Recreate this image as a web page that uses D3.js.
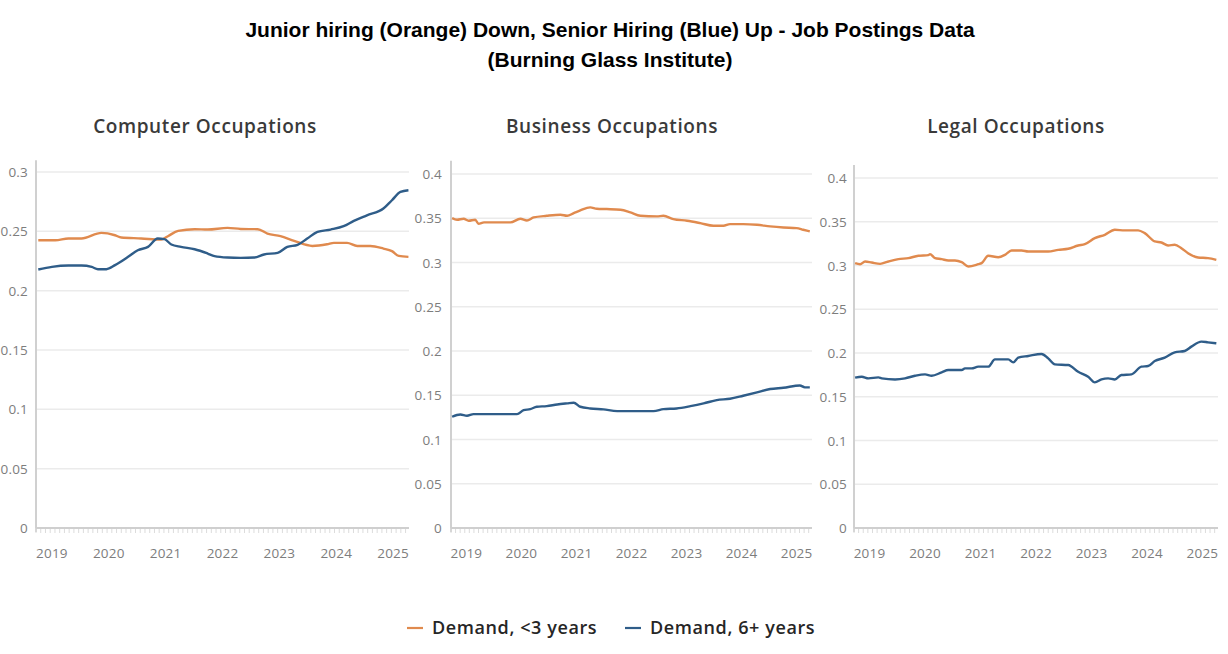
<!DOCTYPE html>
<html>
<head>
    <meta charset="UTF-8">
    <title>Junior vs Senior Hiring</title>
    <script src="https://d3js.org/d3.v7.min.js"></script>
    <style>
        body { margin: 0; background: #fff; }
        .grid line { stroke: #ebebeb; stroke-width: 1.5; }
        .tick-label { font-family: "Open Sans", sans-serif; font-size: 13.5px; fill: #7d7d7d; letter-spacing: 0.2px; }
        .panel-title { font-family: "Open Sans", sans-serif; font-size: 19px; font-weight: 600; fill: #3a3a3a; letter-spacing: 0.6px; }
        .legend-text { font-family: "Open Sans", sans-serif; font-size: 18px; font-weight: 600; fill: #262626; letter-spacing: 0.6px; }
    </style>
</head>
<body>
<div id="chart"></div>
<script>
    // series: [fractional year, share of postings]
    var computerJunior = [[2018.88,0.2425],[2019.18,0.2425],[2019.41,0.244],[2019.64,0.244],[2019.99,0.2487],[2020.23,0.2467],
        [2020.34,0.2448],[2020.69,0.244],[2021.04,0.243],[2021.16,0.2459],[2021.34,0.2504],[2021.63,0.2518],[2021.86,0.2515],
        [2022.21,0.2529],[2022.44,0.252],[2022.74,0.2518],[2022.91,0.2481],[2023.14,0.2459],[2023.38,0.242],[2023.70,0.2377],
        [2023.96,0.2391],[2024.08,0.2403],[2024.31,0.2403],[2024.49,0.2377],[2024.72,0.2377],[2024.95,0.2355],[2025.10,0.2333],
        [2025.22,0.2293],[2025.39,0.2285]];
    var computerSenior = [[2018.88,0.2178],[2019.12,0.2201],[2019.41,0.2212],[2019.64,0.2212],[2019.82,0.22],[2019.93,0.2181],
        [2020.08,0.2181],[2020.23,0.2215],[2020.46,0.2285],[2020.63,0.2341],[2020.81,0.2369],[2020.98,0.2439],[2021.10,0.2434],
        [2021.22,0.2389],[2021.39,0.2369],[2021.63,0.2349],[2021.86,0.2313],[2021.98,0.2291],[2022.21,0.2279],[2022.44,0.2276],
        [2022.68,0.2279],[2022.85,0.2305],[2023.09,0.2319],[2023.26,0.2369],[2023.44,0.2386],[2023.61,0.2439],[2023.79,0.2495],
        [2024.02,0.2515],[2024.25,0.2543],[2024.43,0.2588],[2024.66,0.2635],[2024.95,0.2692],[2025.10,0.2762],[2025.25,0.2832],
        [2025.39,0.2846]];
    var businessJunior = [[2018.86,0.3502],[2018.95,0.3483],[2019.07,0.3494],[2019.16,0.3472],[2019.28,0.3483],[2019.34,0.3438],
        [2019.44,0.3453],[2019.68,0.3453],[2019.92,0.3453],[2020.10,0.3494],[2020.22,0.3475],[2020.34,0.3509],[2020.58,0.3528],
        [2020.83,0.354],[2020.95,0.3528],[2021.07,0.3558],[2021.19,0.3589],[2021.37,0.3623],[2021.49,0.3608],[2021.67,0.3604],
        [2021.92,0.3596],[2022.10,0.3566],[2022.28,0.3528],[2022.58,0.3521],[2022.70,0.3528],[2022.88,0.3491],[2023.13,0.3472],
        [2023.37,0.3445],[2023.61,0.3415],[2023.79,0.3415],[2023.91,0.3434],[2024.15,0.3434],[2024.40,0.3426],[2024.64,0.3408],
        [2024.88,0.3396],[2025.12,0.3389],[2025.24,0.337],[2025.36,0.3351]];
    var businessSenior = [[2018.86,0.1257],[2019.01,0.1283],[2019.13,0.1268],[2019.25,0.1287],[2019.56,0.1287],[2020.04,0.1287],
        [2020.16,0.1332],[2020.28,0.1343],[2020.40,0.137],[2020.58,0.1377],[2020.77,0.1396],[2020.95,0.1408],[2021.07,0.1415],
        [2021.19,0.137],[2021.37,0.1351],[2021.61,0.134],[2021.86,0.1321],[2022.22,0.1321],[2022.52,0.1321],[2022.70,0.1343],
        [2022.94,0.1351],[2023.19,0.1377],[2023.43,0.1408],[2023.67,0.1445],[2023.91,0.146],[2024.15,0.1494],[2024.40,0.1532],
        [2024.64,0.157],[2024.88,0.1585],[2025.18,0.1611],[2025.27,0.1589],[2025.36,0.1589]];
    var legalJunior = [[2018.86,0.3027],[2018.95,0.3015],[2019.04,0.3046],[2019.16,0.3034],[2019.31,0.3019],[2019.46,0.3046],
        [2019.64,0.3073],[2019.82,0.3084],[2020.00,0.3111],[2020.18,0.3118],[2020.21,0.313],[2020.30,0.3084],[2020.42,0.3073],
        [2020.54,0.3057],[2020.66,0.3057],[2020.78,0.3038],[2020.90,0.2989],[2021.08,0.3015],[2021.14,0.3027],[2021.26,0.3111],
        [2021.44,0.3095],[2021.56,0.3122],[2021.68,0.3172],[2021.86,0.3172],[2021.98,0.316],[2022.34,0.316],[2022.52,0.3179],
        [2022.70,0.3191],[2022.88,0.3229],[2023.00,0.3244],[2023.18,0.3313],[2023.36,0.3351],[2023.54,0.3408],[2023.72,0.3401],
        [2023.96,0.3401],[2024.08,0.337],[2024.26,0.3275],[2024.38,0.3263],[2024.50,0.3229],[2024.62,0.3237],[2024.74,0.3198],
        [2024.86,0.3141],[2025.04,0.3092],[2025.22,0.3084],[2025.37,0.3065]];
    var legalSenior = [[2018.86,0.1718],[2018.98,0.1729],[2019.10,0.171],[2019.28,0.1721],[2019.34,0.171],[2019.58,0.1698],
        [2019.76,0.171],[2019.94,0.174],[2020.12,0.1756],[2020.24,0.174],[2020.42,0.1779],[2020.54,0.1805],[2020.78,0.1805],
        [2020.84,0.1824],[2020.96,0.1824],[2021.08,0.1844],[2021.26,0.1844],[2021.38,0.1927],[2021.62,0.1927],[2021.71,0.1893],
        [2021.80,0.1947],[2021.98,0.1966],[2022.22,0.1989],[2022.34,0.1939],[2022.46,0.187],[2022.70,0.1863],[2022.88,0.1786],
        [2023.06,0.1729],[2023.18,0.1664],[2023.30,0.1698],[2023.42,0.171],[2023.54,0.1698],[2023.66,0.1748],[2023.84,0.1756],
        [2024.02,0.1844],[2024.14,0.1851],[2024.26,0.1908],[2024.44,0.1947],[2024.62,0.2008],[2024.80,0.2023],[2024.92,0.2073],
        [2025.10,0.213],[2025.22,0.2122],[2025.37,0.2111]];

    var yearTicks = [2019, 2020, 2021, 2022, 2023, 2024, 2025];
    var panelTitles = ["Computer Occupations", "Business Occupations", "Legal Occupations"];
    var yTicks = [[0, 0.05, 0.1, 0.15, 0.2, 0.25, 0.3], [0, 0.05, 0.1, 0.15, 0.2, 0.25, 0.3, 0.35, 0.4], [0, 0.05, 0.1, 0.15, 0.2, 0.25, 0.3, 0.35, 0.4]];
    var yMax = [0.31, 0.415, 0.415];
    var legendLabels = ["Demand, <3 years", "Demand, 6+ years"];

    var orange = "#e08a4e", blue = "#2f5d89";
    var width = 1228, height = 654;

    var svg = d3.select("#chart").append("svg")
        .attr("width", width)
        .attr("height", height);

    // main title
    var title = svg.append("text")
        .attr("text-anchor", "middle")
        .style("font-family", "'Liberation Sans', Arial, sans-serif")
        .style("font-weight", "bold")
        .style("font-size", "21px")
        .attr("fill", "#000");
    title.append("tspan").attr("x", 610).attr("y", 37).text("Junior hiring (Orange) Down, Senior Hiring (Blue) Up - Job Postings Data");
    title.append("tspan").attr("x", 610).attr("y", 67).text("(Burning Glass Institute)");

    // panel frames: left edge of plot, right edge, pixel for top value
    var panels = [
        {left: 36, right: 409, topVal: 172, labelGap: 8, junior: computerJunior, senior: computerSenior, center: 205},
        {left: 451, right: 812, topVal: 174, labelGap: 9, junior: businessJunior, senior: businessSenior, center: 612},
        {left: 854, right: 1218, topVal: 178, labelGap: 7, junior: legalJunior, senior: legalSenior, center: 1016}
    ];
    var bottom = 528;

    panels.forEach(function (p, i) {
        var g = svg.append("g");
        var x = d3.scaleLinear().domain([2018.84, 2025.40]).range([p.left, p.right]);
        var ticks = yTicks[i];
        var topTick = ticks[ticks.length - 1];
        var y = d3.scaleLinear().domain([0, topTick]).range([bottom, p.topVal]);

        g.append("text")
            .attr("class", "panel-title")
            .attr("x", p.center)
            .attr("y", 133)
            .attr("text-anchor", "middle")
            .text(panelTitles[i]);

        // gridlines
        g.append("g").attr("class", "grid")
            .selectAll("line")
            .data(ticks.filter(function (d) { return d > 0; }))
            .enter().append("line")
            .attr("x1", p.left).attr("x2", p.right)
            .attr("y1", function (d) { return y(d); })
            .attr("y2", function (d) { return y(d); });

        // y labels
        g.selectAll(".ylab")
            .data(ticks)
            .enter().append("text")
            .attr("class", "tick-label")
            .attr("x", p.left - p.labelGap)
            .attr("y", function (d) { return y(d) + 5; })
            .attr("text-anchor", "end")
            .text(function (d) { return d3.format("")(d); });

        // y axis line
        g.append("line")
            .attr("x1", p.left).attr("x2", p.left)
            .attr("y1", y(yMax[i])).attr("y2", bottom + 4)
            .attr("stroke", "#d0d0d0").attr("stroke-width", 2);

        // x axis with monthly minor ticks
        var months = d3.range(0, Math.floor((2025.40 - 2018.84) * 12) + 1).map(function (k) { return 2018.84 + k / 12; });
        g.selectAll(".mtick")
            .data(months)
            .enter().append("line")
            .attr("x1", function (d) { return x(d); })
            .attr("x2", function (d) { return x(d); })
            .attr("y1", bottom).attr("y2", bottom + 5)
            .attr("stroke", "#dcdcdc").attr("stroke-width", 1);
        g.append("line")
            .attr("x1", p.left).attr("x2", p.right)
            .attr("y1", bottom).attr("y2", bottom)
            .attr("stroke", "#cfcfcf").attr("stroke-width", 2);

        g.selectAll(".xlab")
            .data(yearTicks)
            .enter().append("text")
            .attr("class", "tick-label")
            .attr("x", function (d) { return x(d + 0.12); })
            .attr("y", 558)
            .attr("text-anchor", "middle")
            .text(function (d) { return d; });

        var line = d3.line()
            .x(function (d) { return x(d[0]); })
            .y(function (d) { return y(d[1]); })
            .curve(d3.curveMonotoneX);

        g.append("path").datum(p.junior)
            .attr("fill", "none").attr("stroke", orange).attr("stroke-width", 2.4)
            .attr("d", line);
        g.append("path").datum(p.senior)
            .attr("fill", "none").attr("stroke", blue).attr("stroke-width", 2.4)
            .attr("d", line);
    });

    // legend
    var legend = svg.append("g");
    var legendItems = [{x: 407, color: orange}, {x: 625, color: blue}];
    legendItems.forEach(function (d, i) {
        legend.append("line")
            .attr("x1", d.x).attr("x2", d.x + 16)
            .attr("y1", 628).attr("y2", 628)
            .attr("stroke", d.color).attr("stroke-width", 2.2);
        legend.append("text")
            .attr("class", "legend-text")
            .attr("x", d.x + 25)
            .attr("y", 634)
            .text(legendLabels[i]);
    });
</script>
</body>
</html>
